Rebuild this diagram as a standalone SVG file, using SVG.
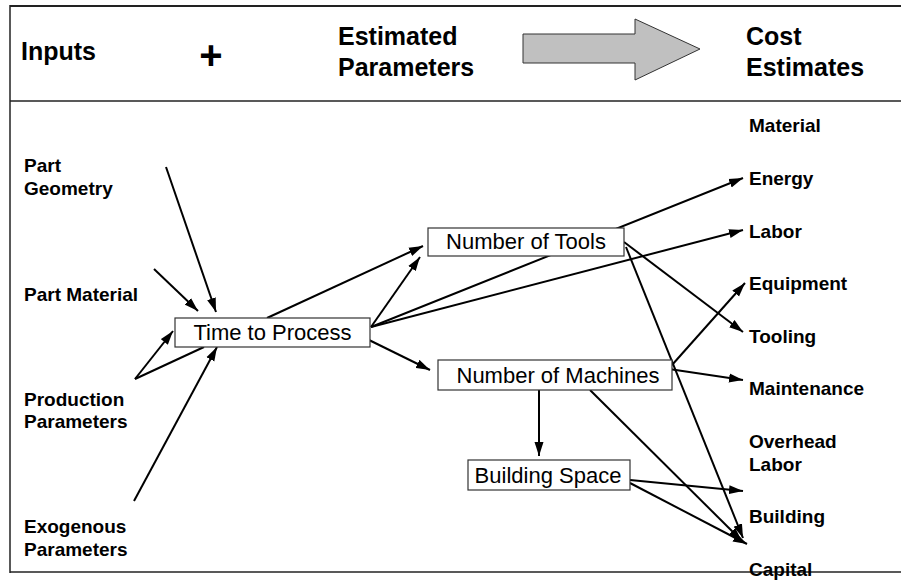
<svg xmlns="http://www.w3.org/2000/svg" width="901" height="580" viewBox="0 0 901 580">
<style>
  .frame { stroke: #222; fill: none; }
  .hdr { font-family: "Liberation Sans", Arial, sans-serif; font-weight: bold; font-size: 25px; fill: #000; }
  .plus { font-family: "Liberation Sans", Arial, sans-serif; font-weight: bold; font-size: 40px; fill: #000; }
  .lbl { font-family: "Liberation Sans", Arial, sans-serif; font-weight: bold; font-size: 19px; fill: #000; }
  .node rect { fill: #fff; stroke: #333; stroke-width: 1.2; }
  .node text { font-family: "Liberation Sans", Arial, sans-serif; font-size: 22px; fill: #000; }
  .conn line { stroke: #000; stroke-width: 2; }
  .arr { marker-end: url(#ah); }
</style>
<defs>
  <marker id="ah" markerUnits="userSpaceOnUse" markerWidth="15" markerHeight="10" refX="14" refY="5" orient="auto">
    <path d="M0,0.5 L14,5 L0,9.5 z" fill="#000"/>
  </marker>
</defs>
<rect width="901" height="580" fill="#fff"/>
<g id="frame">
  <line class="frame" x1="10" y1="6" x2="901" y2="6" stroke-width="2"/>
  <line class="frame" x1="10" y1="101" x2="901" y2="101" stroke-width="1.5"/>
  <line class="frame" x1="10" y1="572" x2="901" y2="572" stroke-width="1.5"/>
  <line class="frame" x1="10" y1="5" x2="10" y2="573" stroke-width="1.5"/>
</g>
<g id="header">
  <text class="hdr" x="21" y="60">Inputs</text>
  <text class="plus" x="211" y="69" text-anchor="middle">+</text>
  <text class="hdr" x="338" y="45">Estimated</text>
  <text class="hdr" x="338" y="76">Parameters</text>
  <polygon points="523,34 635,34 635,19 700,49 635,80 635,63 523,63" fill="#c0c0c0" stroke="#333" stroke-width="1"/>
  <text class="hdr" x="746" y="45">Cost</text>
  <text class="hdr" x="746" y="76">Estimates</text>
</g>
<g class="conn" id="connectors">
  <line class="arr" x1="166" y1="167" x2="216" y2="312"/>
  <line class="arr" x1="154" y1="269" x2="198" y2="311"/>
  <line class="arr" x1="135" y1="379" x2="173" y2="331"/>
  <line x1="135" y1="379" x2="204" y2="347"/>
  <line class="arr" x1="134" y1="501" x2="217" y2="347"/>
  <line class="arr" x1="267" y1="318" x2="423" y2="246"/>
  <line class="arr" x1="371" y1="327" x2="420" y2="257"/>
  <line class="arr" x1="371" y1="327" x2="743" y2="178"/>
  <line class="arr" x1="371" y1="327" x2="743" y2="230"/>
  <line class="arr" x1="367" y1="339" x2="430" y2="370"/>
  <line class="arr" x1="624" y1="242" x2="743" y2="332"/>
  <line class="arr" x1="626" y1="247" x2="743" y2="538"/>
  <line class="arr" x1="672" y1="365" x2="745" y2="283"/>
  <line class="arr" x1="669" y1="369" x2="743" y2="380"/>
  <line class="arr" x1="539" y1="390" x2="539" y2="456"/>
  <line class="arr" x1="590" y1="390" x2="742" y2="541"/>
  <line class="arr" x1="630" y1="480" x2="743" y2="491"/>
  <line class="arr" x1="630" y1="483" x2="747" y2="544"/>
</g>
<g id="inputs">
  <text class="lbl" x="24" y="172">Part</text>
  <text class="lbl" x="24" y="195">Geometry</text>
  <text class="lbl" x="24" y="301">Part Material</text>
  <text class="lbl" x="24" y="406">Production</text>
  <text class="lbl" x="24" y="428">Parameters</text>
  <text class="lbl" x="24" y="533">Exogenous</text>
  <text class="lbl" x="24" y="556">Parameters</text>
</g>
<g class="node" id="time-to-process">
  <rect x="175" y="318" width="195" height="29"/>
  <text x="272.5" y="340" text-anchor="middle">Time to Process</text>
</g>
<g class="node" id="number-of-tools">
  <rect x="428" y="228" width="196" height="28"/>
  <text x="526" y="249" text-anchor="middle">Number of Tools</text>
</g>
<g class="node" id="number-of-machines">
  <rect x="438" y="360" width="234" height="30"/>
  <text x="558" y="383" text-anchor="middle">Number of Machines</text>
</g>
<g class="node" id="building-space">
  <rect x="468" y="460" width="162" height="30"/>
  <text x="548" y="483" text-anchor="middle">Building Space</text>
</g>
<g id="outputs">
  <text class="lbl" x="749" y="132">Material</text>
  <text class="lbl" x="749" y="185">Energy</text>
  <text class="lbl" x="749" y="238">Labor</text>
  <text class="lbl" x="749" y="290">Equipment</text>
  <text class="lbl" x="749" y="343">Tooling</text>
  <text class="lbl" x="749" y="395">Maintenance</text>
  <text class="lbl" x="749" y="448">Overhead</text>
  <text class="lbl" x="749" y="471">Labor</text>
  <text class="lbl" x="749" y="523">Building</text>
  <text class="lbl" x="749" y="576">Capital</text>
</g>
</svg>
